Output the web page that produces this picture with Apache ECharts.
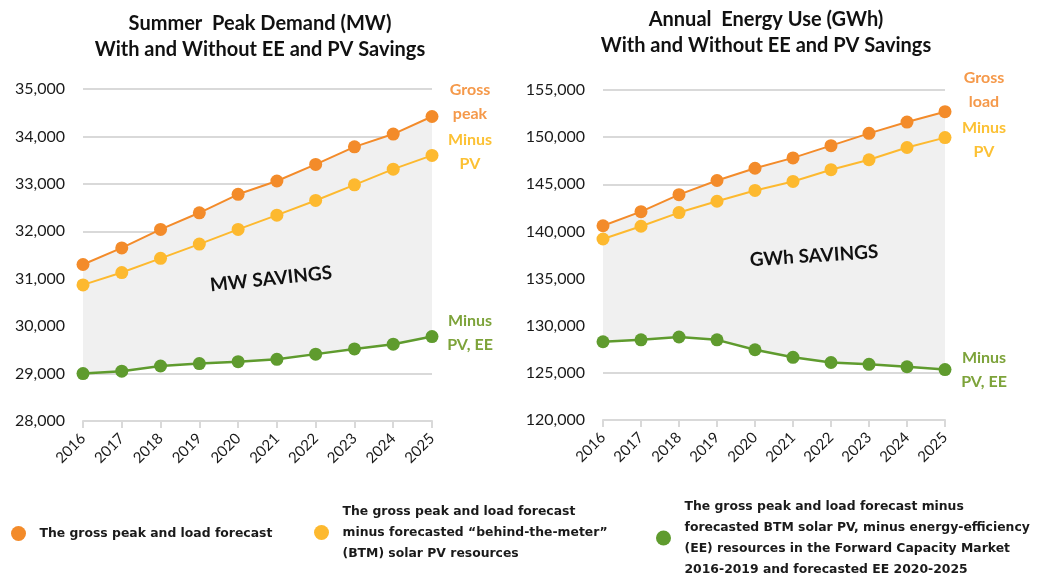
<!DOCTYPE html>
<html>
<head>
<meta charset="utf-8">
<script src="https://cdn.jsdelivr.net/npm/echarts@6/dist/echarts.min.js"></script>
<style>
  html, body { margin: 0; padding: 0; background: #fff; }
  #chart { width: 1049px; height: 574px; }
</style>
</head>
<body>
<div id="chart"></div>
<script>
// ---- data ----
var years = ['2016', '2017', '2018', '2019', '2020', '2021', '2022', '2023', '2024', '2025'];

// Summer peak demand, MW
var mwGross     = [31300, 31650, 32040, 32390, 32780, 33060, 33410, 33780, 34050, 34420];
var mwMinusPV   = [30870, 31130, 31430, 31730, 32040, 32340, 32650, 32980, 33310, 33600];
var mwMinusPVEE = [29000, 29050, 29160, 29210, 29250, 29300, 29410, 29520, 29620, 29780];

// Annual energy use, GWh
var gwhGross     = [140600, 142100, 143900, 145400, 146700, 147800, 149100, 150400, 151600, 152700];
var gwhMinusPV   = [139200, 140550, 142000, 143200, 144350, 145300, 146550, 147600, 148900, 149950];
var gwhMinusPVEE = [128300, 128500, 128800, 128500, 127450, 126650, 126100, 125900, 125650, 125350];

var mwTicks  = { min: 28000, max: 35000, interval: 1000 };
var gwhTicks = { min: 120000, max: 155000, interval: 5000 };

var NAME_GROSS = 'gross';
var NAME_PV = 'pv';
var NAME_EE = 'ee';
var legendText = {
    gross: 'The gross peak and load forecast',
    pv: 'The gross peak and load forecast\nminus forecasted \u201cbehind-the-meter\u201d\n(BTM) solar PV resources',
    ee: 'The gross peak and load forecast minus\nforecasted BTM solar PV, minus energy-efficiency\n(EE) resources in the Forward Capacity Market\n2016-2019 and forecasted EE 2020-2025'
};

var COLOR_GROSS = '#F38B2A';
var COLOR_PV = '#FDB92F';
var COLOR_EE = '#5F9B2E';
var FONT = 'Lato, "Open Sans", sans-serif';
var LEGEND_FONT = '"DejaVu Sans", sans-serif';

// gap between the gross line and the PV+EE line, used for the grey band
function diff(top, bottom) {
    return top.map(function (v, i) { return v - bottom[i]; });
}

function bandSeries(idx, top, bottom) {
    return [{
        name: 'base' + idx, type: 'line', xAxisIndex: idx, yAxisIndex: idx,
        stack: 'band' + idx, data: bottom, symbol: 'none', silent: true,
        lineStyle: { opacity: 0 }, z: 1
    }, {
        name: 'band' + idx, type: 'line', xAxisIndex: idx, yAxisIndex: idx,
        stack: 'band' + idx, data: diff(top, bottom), symbol: 'none', silent: true,
        lineStyle: { opacity: 0 }, areaStyle: { color: '#f0f0f0', opacity: 1 }, z: 1
    }];
}

function lineSeries(idx, name, data, color, width) {
    return {
        name: name, type: 'line', xAxisIndex: idx, yAxisIndex: idx,
        data: data, symbol: 'circle', symbolSize: 13,
        lineStyle: { color: color, width: width },
        itemStyle: { color: color },
        z: 3
    };
}

function xAxis(idx) {
    return {
        type: 'category', gridIndex: idx, data: years, boundaryGap: false,
        axisLine: { lineStyle: { color: '#d9d9d9', width: 2 } },
        axisTick: { show: true, length: 7, lineStyle: { color: '#d9d9d9', width: 2 } },
        axisLabel: { rotate: 45, color: '#1a1a1a', fontSize: 15, fontFamily: FONT, margin: 15 }
    };
}

function yAxis(idx, t) {
    return {
        type: 'value', gridIndex: idx, min: t.min, max: t.max, interval: t.interval,
        axisLine: { show: false }, axisTick: { show: false },
        splitLine: { lineStyle: { color: '#d9d9d9', width: 2 } },
        axisLabel: {
            color: '#1a1a1a', fontSize: 16, fontFamily: FONT, margin: 18,
            formatter: function (v) { return v.toLocaleString('en-US'); }
        }
    };
}

function legend(name, left, top) {
    return {
        data: [name], left: left, top: top, orient: 'vertical',
        icon: 'circle', itemWidth: 26, itemHeight: 15,
        formatter: function (n) { return legendText[n]; },
        textStyle: { fontSize: 12.4, fontWeight: 'bold', color: '#1a1a1a', fontFamily: LEGEND_FONT, lineHeight: 21, padding: [0, 0, 0, 3] }
    };
}

function label(text, x, y, color) {
    return {
        type: 'text', x: x, y: y, z: 100,
        style: { text: text, fill: color, fontSize: 16, fontWeight: 'bold', fontFamily: FONT, align: 'center', verticalAlign: 'middle', lineHeight: 24 }
    };
}

var option = {
    animation: false,
    backgroundColor: '#fff',
    grid: [
        { left: 83, right: 617, top: 89, bottom: 153 },
        { left: 603, right: 104, top: 90, bottom: 154 }
    ],
    xAxis: [xAxis(0), xAxis(1)],
    yAxis: [yAxis(0, mwTicks), yAxis(1, gwhTicks)],
    legend: [
        legend(NAME_GROSS, 6, 518),
        legend(NAME_PV, 309, 496),
        legend(NAME_EE, 651, 491)
    ],
    series: [].concat(
        bandSeries(0, mwGross, mwMinusPVEE),
        bandSeries(1, gwhGross, gwhMinusPVEE),
        [
            lineSeries(0, NAME_GROSS, mwGross, COLOR_GROSS, 2),
            lineSeries(0, NAME_PV, mwMinusPV, COLOR_PV, 2),
            lineSeries(0, NAME_EE, mwMinusPVEE, COLOR_EE, 2.5),
            lineSeries(1, NAME_GROSS, gwhGross, COLOR_GROSS, 2),
            lineSeries(1, NAME_PV, gwhMinusPV, COLOR_PV, 2),
            lineSeries(1, NAME_EE, gwhMinusPVEE, COLOR_EE, 2.5)
        ]
    ),
    graphic: [
        {
            type: 'text', x: 260, y: 37, z: 100,
            style: { text: 'Summer  Peak Demand (MW)\nWith and Without EE and PV Savings', fill: '#111', fontSize: 20, fontWeight: 'bold', fontFamily: FONT, align: 'center', verticalAlign: 'middle', lineHeight: 26 }
        },
        {
            type: 'text', x: 766, y: 33, z: 100,
            style: { text: 'Annual  Energy Use (GWh)\nWith and Without EE and PV Savings', fill: '#111', fontSize: 20, fontWeight: 'bold', fontFamily: FONT, align: 'center', verticalAlign: 'middle', lineHeight: 26 }
        },
        {
            type: 'text', x: 271, y: 279, z: 100, rotation: 0.105,
            style: { text: 'MW SAVINGS', fill: '#111', fontSize: 19, fontWeight: 'bold', fontFamily: FONT, align: 'center', verticalAlign: 'middle' }
        },
        {
            type: 'text', x: 814, y: 256, z: 100, rotation: 0.065,
            style: { text: 'GWh SAVINGS', fill: '#111', fontSize: 19, fontWeight: 'bold', fontFamily: FONT, align: 'center', verticalAlign: 'middle' }
        },
        label('Gross\npeak', 470, 102, '#F5994A'),
        label('Minus\nPV', 470, 152, '#FCC134'),
        label('Minus\nPV, EE', 470, 333, '#7DA33A'),
        label('Gross\nload', 984, 90, '#F5994A'),
        label('Minus\nPV', 984, 140, '#FCC134'),
        label('Minus\nPV, EE', 984, 370, '#7DA33A')
    ]
};

var myChart = echarts.init(document.getElementById('chart'));
myChart.setOption(option);
</script>
</body>
</html>
